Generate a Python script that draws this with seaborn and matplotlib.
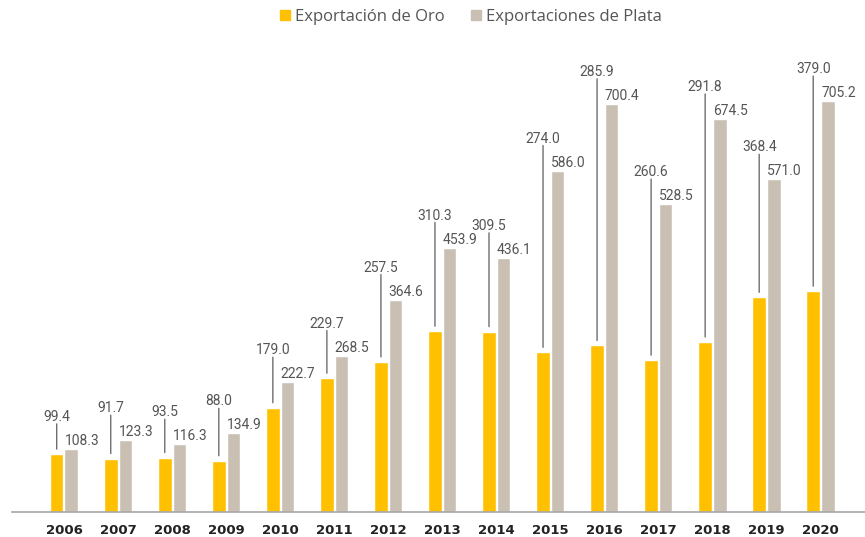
import matplotlib
matplotlib.use('Agg')
import matplotlib.pyplot as plt
import seaborn as sns
import pandas as pd
from matplotlib.patches import Patch
from matplotlib.transforms import offset_copy

# data
years = ['2006', '2007', '2008', '2009', '2010', '2011', '2012', '2013',
         '2014', '2015', '2016', '2017', '2018', '2019', '2020']
gold = [99.4, 91.7, 93.5, 88.0, 179.0, 229.7, 257.5, 310.3,
        309.5, 274.0, 285.9, 260.6, 291.8, 368.4, 379.0]
silver = [108.3, 123.3, 116.3, 134.9, 222.7, 268.5, 364.6, 453.9,
          436.1, 586.0, 700.4, 528.5, 674.5, 571.0, 705.2]
series = ['Exportación de Oro', 'Exportaciones de Plata']
colors = ['#FFC000', '#C9C0B3']

df = pd.DataFrame({
    'year': years * 2,
    'value': gold + silver,
    'serie': [series[0]] * len(years) + [series[1]] * len(years),
})

sns.set_style('white')
plt.rcParams['font.family'] = ['DejaVu Sans']
num_font = 'Roboto'

fig = plt.figure(figsize=(8.65, 5.37), dpi=100)
ax = fig.add_axes([12 / 865, 25 / 537, 1 - 12 / 865, 472 / 537])

sns.barplot(data=df, x='year', y='value', hue='serie', hue_order=series,
            palette=colors, width=0.54, gap=0.07, legend=False, ax=ax,
            saturation=1)

ax.set_ylim(0, 810)
ax.set_xlim(-0.962, 14.823)
ax.set_xlabel('')
ax.set_ylabel('')
ax.set_yticks([])
for s in ['top', 'right', 'left']:
    ax.spines[s].set_visible(False)
ax.spines['bottom'].set_color('#a6a6a6')
ax.spines['bottom'].set_linewidth(1.2)
ax.tick_params(axis='x', length=0, pad=9)
for lbl in ax.get_xticklabels():
    lbl.set_fontweight('bold')
    lbl.set_fontsize(9.5)
    lbl.set_color('#222222')

txt_color = '#555555'
line_from = offset_copy(ax.transData, fig=fig, y=5, units='dots')
line_to = offset_copy(ax.transData, fig=fig, y=25, units='dots')

gold_bars = ax.containers[0]
silver_bars = ax.containers[1]
for gb, sb in zip(gold_bars, silver_bars):
    gx = gb.get_x() + gb.get_width() / 2
    gh = gb.get_height()
    sx = sb.get_x()
    sh = sb.get_height()
    # silver value just above its bar
    ax.annotate(f'{sh:.1f}', xy=(sx, sh), xytext=(0, 4),
                textcoords='offset pixels', ha='left', va='baseline',
                fontsize=10, color=txt_color, family=num_font)
    # gold value raised above the silver label, with leader line
    ax.annotate(f'{gh:.1f}', xy=(gx, sh), xytext=(0, 28),
                textcoords='offset pixels', ha='center', va='baseline',
                fontsize=10, color=txt_color, family=num_font)
    ax.annotate('', xy=(gx, gh), xytext=(gx, sh),
                xycoords=line_from, textcoords=line_to,
                arrowprops=dict(arrowstyle='-', color='#6e6e6e', lw=1,
                                shrinkA=0, shrinkB=0))

handles = [Patch(color=c, label=s) for c, s in zip(colors, series)]
fig.legend(handles=handles, loc='center', bbox_to_anchor=(471 / 865, 1 - 17 / 537),
           ncol=2, frameon=False, handlelength=0.6, handleheight=0.6,
           handletextpad=0.3, columnspacing=1.6,
           prop={'family': 'Open Sans', 'size': 12}, labelcolor='#555555')

fig.savefig('out.png', dpi=100)
